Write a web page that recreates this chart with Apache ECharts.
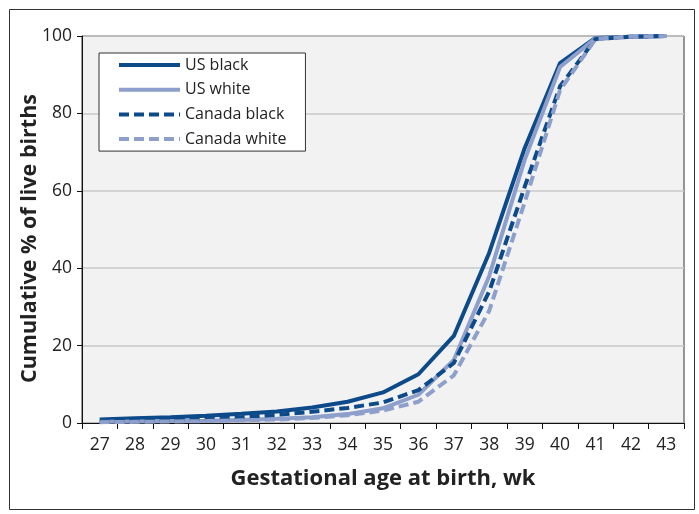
<!DOCTYPE html>
<html>
<head>
<meta charset="utf-8">
<script src="https://cdn.jsdelivr.net/npm/echarts@6/dist/echarts.min.js"></script>
<style>
html,body{margin:0;padding:0;background:#fff;}
#c{width:699px;height:514px;}
</style>
</head>
<body>
<div id="c"></div>
<script>
const weeks = ['27','28','29','30','31','32','33','34','35','36','37','38','39','40','41','42','43'];
const usBlack     = [0.9, 1.2, 1.5, 1.9, 2.4, 3.0, 4.0, 5.5, 7.9, 12.6, 22.5, 44, 71, 93, 99.5, 99.8, 100];
const usWhite     = [0.3, 0.4, 0.5, 0.6, 0.8, 1.1, 1.5, 2.3, 3.8, 7.3, 16.3, 38, 68, 92, 99.4, 99.8, 100];
const canadaBlack = [0.4, 0.6, 0.8, 1.1, 1.5, 2.1, 2.9, 3.9, 5.3, 8.5, 15.5, 34, 61, 87, 99.2, 99.8, 100];
const canadaWhite = [0.2, 0.3, 0.4, 0.5, 0.7, 0.9, 1.3, 2.0, 3.2, 5.5, 12.3, 29, 57, 86, 99.2, 99.8, 100];
const yTicks = [0, 20, 40, 60, 80, 100];

const DARK = '#0d4a8a';
const LIGHT = '#8d9fca';
const FONT = '"Open Sans", "Noto Sans", sans-serif';

function mk(name, data, color, dashed) {
  return {
    name: name, type: 'line', data: data, symbol: 'none', showSymbol: false, smooth: false,
    lineStyle: { color: color, width: 4, type: dashed ? [10, 5] : 'solid', cap: 'butt' },
    itemStyle: { color: color }
  };
}

const chart = echarts.init(document.getElementById('c'), null, { renderer: 'canvas' });
chart.setOption({
  animation: false,
  backgroundColor: '#ffffff',
  grid: { left: 82, right: 15, top: 36, bottom: 91, show: true, backgroundColor: '#f2f2f2', borderColor: '#333', borderWidth: 1 },
  legend: {
    left: 99, top: 53, orient: 'vertical',
    padding: [3, 19, 3, 18],
    itemWidth: 61, itemHeight: 14, itemGap: 6.7,
    itemStyle: { opacity: 0 },
    lineStyle: { width: 4 },
    backgroundColor: '#ffffff', borderColor: '#333', borderWidth: 1,
    textStyle: { fontFamily: FONT, fontSize: 16, lineHeight: 18, color: '#222' },
    data: ['US black', 'US white', 'Canada black', 'Canada white']
  },
  xAxis: {
    type: 'category', data: weeks, boundaryGap: true,
    name: 'Gestational age at birth, wk', nameLocation: 'middle', nameGap: 45,
    nameTextStyle: { fontFamily: FONT, fontSize: 22, fontWeight: 'bold', color: '#222' },
    axisLine: { lineStyle: { color: '#111', width: 1 } },
    axisTick: { show: true, length: 6, alignWithLabel: false, lineStyle: { color: '#111' } },
    axisLabel: { fontFamily: FONT, fontSize: 17.5, color: '#222', margin: 13 },
    splitLine: { show: false }
  },
  yAxis: {
    type: 'value', min: 0, max: 100, interval: 20,
    name: 'Cumulative % of live births', nameLocation: 'middle', nameGap: 41,
    nameMoveOverlap: false,
    nameTextStyle: { fontFamily: FONT, fontSize: 21.5, fontWeight: 'bold', color: '#222', padding: [0, 18, 0, 0] },
    axisLine: { show: true, lineStyle: { color: '#111', width: 1 } },
    axisTick: { show: true, length: 5, lineStyle: { color: '#111' } },
    axisLabel: { fontFamily: FONT, fontSize: 17.5, color: '#222', margin: 10,
      formatter: function (v) { return yTicks.indexOf(v) >= 0 ? String(v) : ''; } },
    splitLine: { show: true, lineStyle: { color: '#c8c8c8', width: 1.5 } }
  },
  graphic: [{
    type: 'rect', left: 7, top: 7, z: -10, silent: true,
    shape: { width: 685, height: 500 },
    style: { fill: 'none', stroke: '#333', lineWidth: 1 }
  }],
  series: [
    mk('US black', usBlack, DARK, false),
    mk('US white', usWhite, LIGHT, false),
    mk('Canada black', canadaBlack, DARK, true),
    mk('Canada white', canadaWhite, LIGHT, true)
  ]
});
</script>
</body>
</html>
